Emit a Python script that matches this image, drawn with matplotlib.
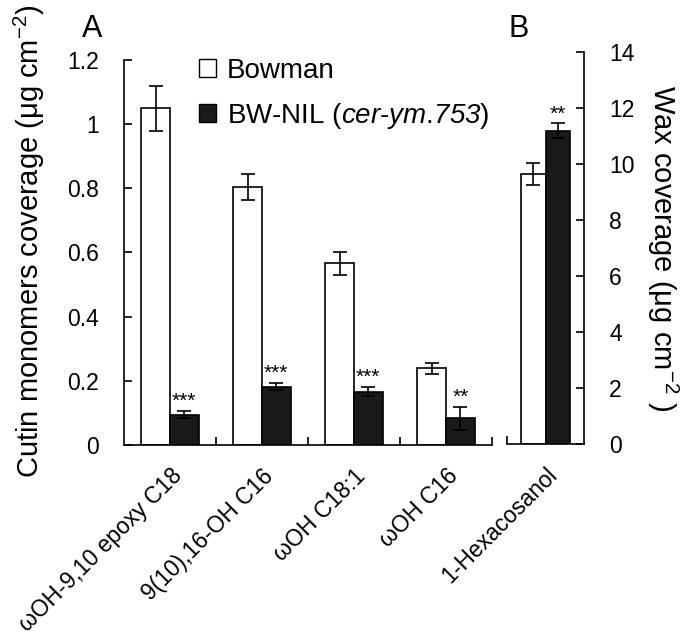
import numpy as np
import matplotlib
matplotlib.use("Agg")
import matplotlib.pyplot as plt
from matplotlib.patches import Patch

plt.rcParams['font.family'] = ['Liberation Sans', 'DejaVu Sans']
plt.rcParams['mathtext.fontset'] = 'custom'
plt.rcParams['mathtext.rm'] = 'Liberation Sans'
plt.rcParams['mathtext.it'] = 'Liberation Sans:italic'
# bf slot used for the italic strain name (keeps digits italic too)
plt.rcParams['mathtext.bf'] = 'Liberation Sans:italic'

# ---- data ----
cutin_names = ['ωOH-9,10 epoxy C18', '9(10),16-OH C16', 'ωOH C18:1', 'ωOH C16']
cutin_bowman = [1.05, 0.804, 0.566, 0.239]
cutin_bowman_err = [0.07, 0.04, 0.036, 0.017]
cutin_nil = [0.094, 0.182, 0.166, 0.083]
cutin_nil_err = [0.011, 0.012, 0.014, 0.036]
cutin_stars = ['***', '***', '***', '**']

wax_names = ['1-Hexacosanol']
wax_bowman = [9.64]
wax_bowman_err = [0.38]
wax_nil = [11.19]
wax_nil_err = [0.26]
wax_stars = ['**']

TICK_FS = 16.5
W = 0.31

fig = plt.figure(figsize=(6.9, 6.43), dpi=100)
axA = fig.add_axes([124/690, 1-445/643, 368/690, 385/643])
axB = fig.add_axes([507/690, 1-444/643, 77/690, 392/643])

def draw_bars(ax, names, bw, bw_err, nil, nil_err, stars, w):
    x = np.arange(len(names))
    ax.bar(x - w/2, bw, w, color='white', edgecolor='black', linewidth=1.2,
           yerr=bw_err, error_kw=dict(ecolor='black', elinewidth=1.2, capsize=5, capthick=1.2))
    ax.bar(x + w/2, nil, w, color='#1a1a1a', edgecolor='black', linewidth=1.2,
           yerr=nil_err, error_kw=dict(ecolor='black', elinewidth=1.2, capsize=5, capthick=1.2))
    for xi, v, e, s in zip(x, nil, nil_err, stars):
        ax.annotate(s, (xi + w/2, v + e), xytext=(0, 0), textcoords='offset points',
                    ha='center', va='bottom', fontsize=15)
    ax.set_xticks(x)
    ax.set_xticklabels(names, rotation=45, ha='right', va='top',
                       rotation_mode='anchor', fontsize=TICK_FS)
    ax.tick_params(axis='x', which='major', length=0, pad=14)
    ax.tick_params(axis='x', which='minor', direction='in', length=6, width=1.2)
    ax.tick_params(axis='y', direction='in', length=6, width=1.2,
                   labelsize=TICK_FS, pad=18)
    for sp in ax.spines.values():
        sp.set_linewidth(1.2)
    ax.spines['top'].set_visible(False)
    return x

# ---- panel A ----
draw_bars(axA, cutin_names, cutin_bowman, cutin_bowman_err,
          cutin_nil, cutin_nil_err, cutin_stars, W)
axA.set_xlim(-0.5, len(cutin_names) - 0.5)
axA.set_xticks(np.arange(len(cutin_names)) + 0.5, minor=True)
axA.set_ylim(0, 1.2)
axA.set_yticks([0, 0.2, 0.4, 0.6, 0.8, 1, 1.2])
axA.set_yticklabels(['0', '0.2', '0.4', '0.6', '0.8', '1', '1.2'])
axA.spines['right'].set_visible(False)
axA.set_ylabel('Cutin monomers coverage (μg cm$^{-2}$)', fontsize=21)
axA.yaxis.set_label_coords(-0.21, 0.53)

handles = [Patch(facecolor='white', edgecolor='black', linewidth=1),
           Patch(facecolor='#1a1a1a', edgecolor='black', linewidth=1)]
axA.legend(handles, ['Bowman', r'BW-NIL ($\mathbf{cer}$-$\mathbf{ym}$.$\mathbf{753}$)'],
           loc='upper left', bbox_to_anchor=(0.204, 1.005), frameon=False,
           borderaxespad=0, borderpad=0,
           fontsize=20, handlelength=0.6, handleheight=0.6,
           handletextpad=0.4, labelspacing=0.6)

# ---- panel B ----
draw_bars(axB, wax_names, wax_bowman, wax_bowman_err,
          wax_nil, wax_nil_err, wax_stars, 0.32)
axB.set_xlim(-0.5, 0.5)
axB.set_xticks([-0.5], minor=True)
axB.set_ylim(0, 14)
axB.set_yticks(np.arange(0, 15, 2))
axB.spines['left'].set_visible(False)
axB.yaxis.tick_right()
axB.yaxis.set_label_position('right')
axB.set_ylabel('Wax coverage (μg cm$^{-2}$ )', fontsize=21, rotation=-90)
axB.yaxis.set_label_coords(2.255, 0.5)

fig.text(92/690, 1-37/643, 'A', fontsize=22, ha='center', va='baseline')
fig.text(519/690, 1-37/643, 'B', fontsize=22, ha='center', va='baseline')

fig.savefig('out.png', dpi=100)
